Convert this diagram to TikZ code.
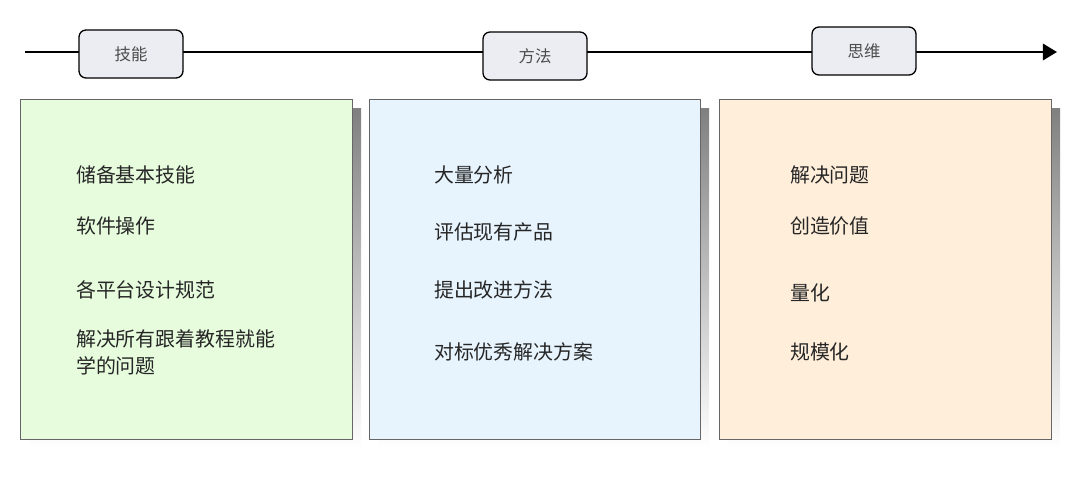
\documentclass[tikz,border=0pt]{standalone}
\usepackage{fontspec}
\setmainfont{Noto Sans CJK SC}
\usetikzlibrary{arrows.meta}
\definecolor{tagfill}{HTML}{ECEDF3}
\definecolor{greenbox}{HTML}{E6FCDD}
\definecolor{bluebox}{HTML}{E7F4FE}
\definecolor{orangebox}{HTML}{FFEEDA}
\definecolor{shade}{HTML}{EBEBEB}
\begin{document}
\begin{tikzpicture}
[x=0.03cm,y=-0.03cm,
 tag/.style={draw=black,line width=1.1pt,fill=tagfill,rounded corners=6pt,minimum width=3.12cm,minimum height=1.44cm,font=\fontsize{14pt}{16pt}\selectfont,text=black!70},
 card/.style={draw=black!60,line width=0.5pt},
 item/.style={anchor=west,font=\fontsize{17pt}{23pt}\selectfont,align=left,text=black!85}]
\useasboundingbox (0,0) rectangle (1078,477);

% timeline
\coordinate (start) at (25,52);
\coordinate (stop) at (1057,52);
\draw[line width=1.6pt,-{Triangle[length=12pt,width=14pt]}] (start) -- (stop);

% cards with shadow
\foreach \l/\r/\c in {20/352/greenbox,369/700/bluebox,719/1051/orangebox}{
  \fill[shade] (\l+9,108) rectangle (\r+9,448);
  \draw[card,fill=\c] (\l,99) rectangle (\r,439);
}

\node[tag] (skill) at (131,54) {技能};
\node[tag] (method) at (535,56) {方法};
\node[tag] (mind) at (864,51) {思维};

% left column
\node[item] (s1) at (72,175) {储备基本技能};
\node[item] (s2) at (72,226) {软件操作};
\node[item] (s3) at (72,290) {各平台设计规范};
\node[item] (s4) at (72,352) {解决所有跟着教程就能\\学的问题};

% middle column
\node[item] (m1) at (430,175) {大量分析};
\node[item] (m2) at (430,232) {评估现有产品};
\node[item] (m3) at (430,290) {提出改进方法};
\node[item] (m4) at (430,352) {对标优秀解决方案};

% right column
\node[item] (t1) at (786,175) {解决问题};
\node[item] (t2) at (786,226) {创造价值};
\node[item] (t3) at (786,293) {量化};
\node[item] (t4) at (786,352) {规模化};
\end{tikzpicture}
\end{document}
